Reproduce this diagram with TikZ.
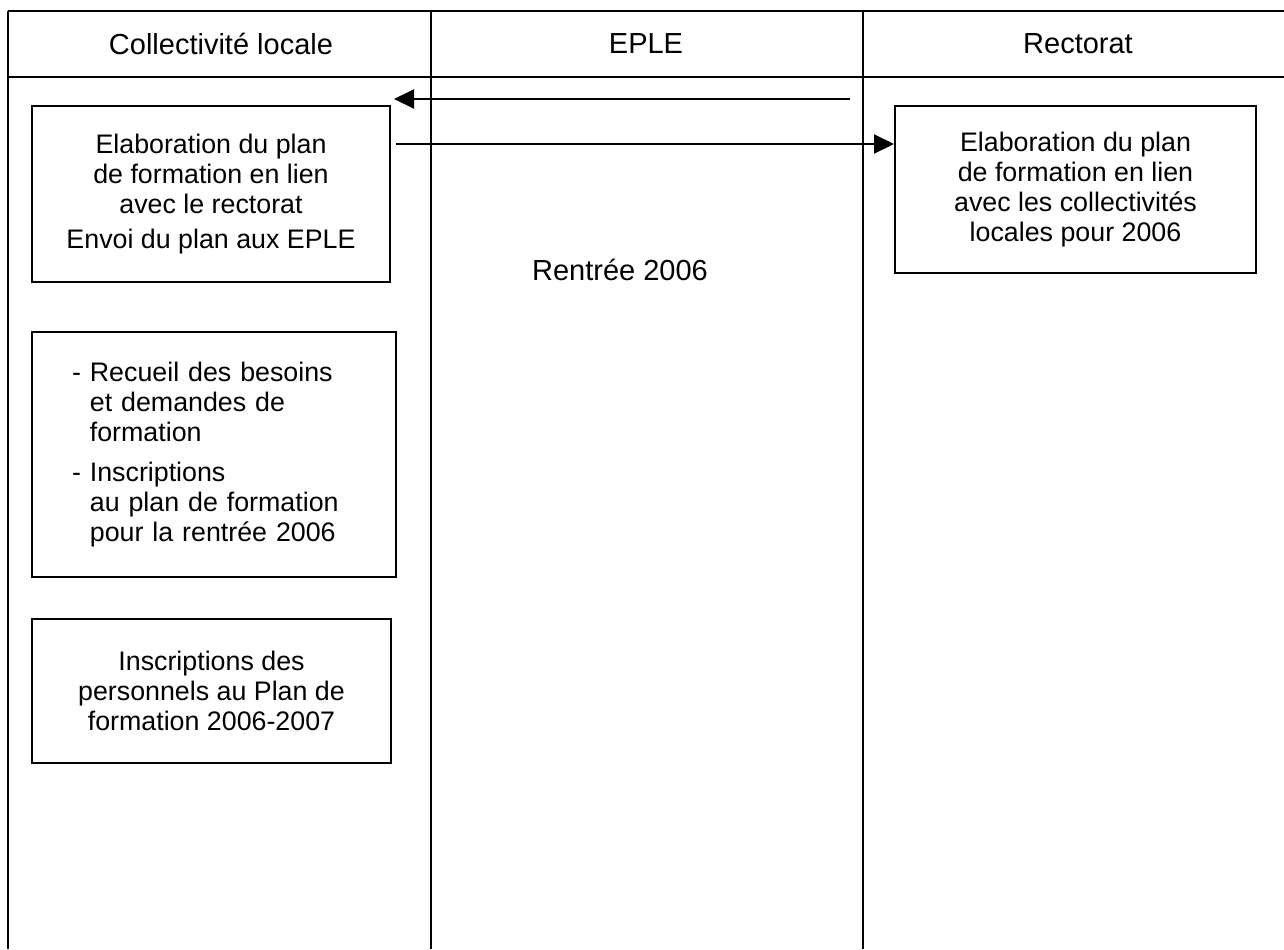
\documentclass[tikz,border=0pt]{standalone}
\usepackage{fontspec}
\setmainfont{Liberation Sans}
\usetikzlibrary{arrows.meta}

\begin{document}
\begin{tikzpicture}[x=0.5pt, y=-0.5pt,
    every node/.style={font=\fontsize{13.4}{15}\selectfont},
    titre/.style={font=\fontsize{14.5}{16.5}\selectfont},
    boite/.style={draw, line width=1pt, align=center, inner sep=0pt},
    fleche/.style={-{Triangle[length=10pt, width=9.5pt]}, line width=1pt}]
    % page
    \useasboundingbox (0, 0) rectangle (1284, 949);

    % table lines
    \draw [line width=1.3pt] (8, 11) -- (1284, 11);
    \draw [line width=1.3pt] (8, 77) -- (1284, 77);
    \draw [line width=1.3pt] (8, 11) -- (8, 949);
    \draw [line width=1.3pt] (431, 11) -- (431, 949);
    \draw [line width=1.3pt] (863, 11) -- (863, 949);

    % column titles
    \node [titre] (collec) at (221, 44) {Collectivité locale};
    \node [titre] (eple) at (646, 44) {EPLE};
    \node [titre] (rectorat) at (1078, 44) {Rectorat};

    % collectivite locale
    \node [boite, minimum width=179pt, minimum height=88pt] (elab) at (211, 194)
        {Elaboration du plan\\ de formation en lien\\ avec le rectorat\\[2.5pt] Envoi du plan aux EPLE};
    \node [boite, align=left, text width=142pt,
           minimum width=182pt, minimum height=122.5pt] (recueil) at (214, 454.5)
        {- Recueil des besoins\\ \phantom{- }et demandes de\\ \phantom{- }formation\\[5pt]
         - Inscriptions\\ \phantom{- }au plan de formation\\ \phantom{- }pour la rentrée 2006};
    \node [boite, minimum width=179.5pt, minimum height=72pt] (inscr) at (211.5, 691)
        {Inscriptions des\\ personnels au Plan de\\ formation 2006-2007};

    % EPLE
    \node [titre] (rentree) at (620, 270) {Rentrée 2006};

    % rectorat
    \node [boite, minimum width=180.5pt, minimum height=83.5pt] (plan) at (1075.5, 189.5)
        {Elaboration du plan\\ de formation en lien\\ avec les collectivités\\ locales pour 2006};

    % exchanges
    \coordinate (retour) at (850, 99);
    \draw [fleche, shorten >=1.5pt] (retour) -- (retour -| elab.east);
    \coordinate (envoi) at (396, 144);
    \draw [fleche] (envoi) -- (envoi -| plan.west);
\end{tikzpicture}
\end{document}
